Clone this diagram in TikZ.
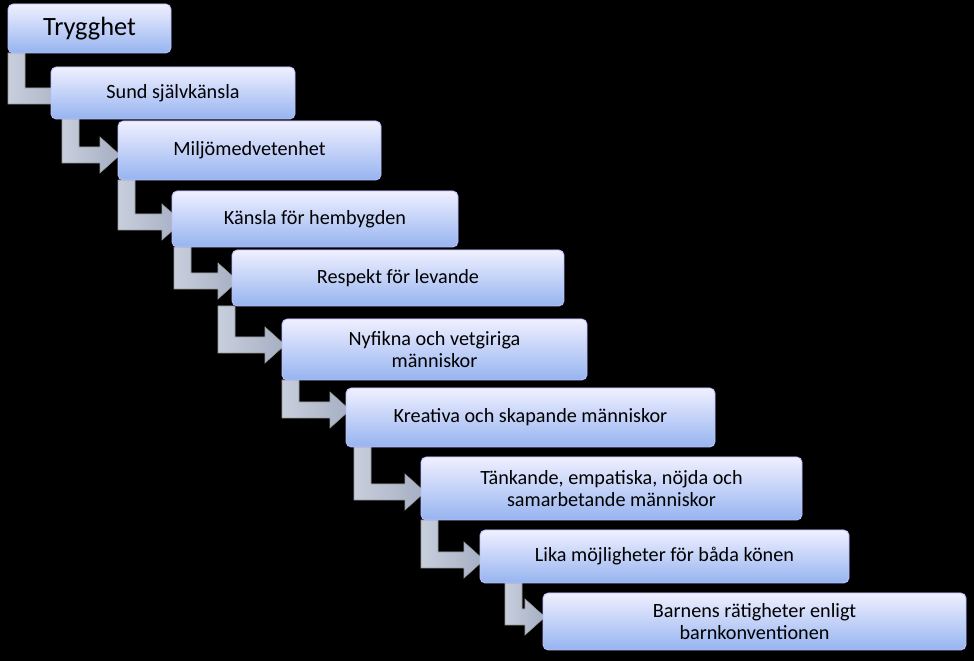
\documentclass[tikz,border=0pt]{standalone}
\usepackage{fontspec}
\setmainfont{Carlito}
\begin{document}
\begin{tikzpicture}[x=0.02cm,y=-0.02cm,
  boxst/.style={draw=blue!25!white,line width=0.5pt,rounded corners=3pt,top color=blue!6!white,bottom color={rgb,255:red,150;green,180;blue,240},align=center,font=\fontsize{11.5}{13}\selectfont,inner sep=0pt},
  arr/.style={draw=black!40,line width=0.3pt,left color={rgb,255:red,200;green,206;blue,220},right color={rgb,255:red,165;green,175;blue,195}}]
\fill[black] (0,0) rectangle (974,661);
\useasboundingbox (0,0) rectangle (974,661);
% arrows: L, T, yh, X
\foreach \L/\T/\Y/\X in {8/53/96/73, 62/119/155/120, 118/180/222/182, 174/247/281/238, 218/306/345/285, 282/380/410/350, 354/447/492/425, 421/520/560/484, 505/583/617/545}{
  \path[arr] (\L,\T) -- (\L+17,\T) -- (\L+17,\Y-8) -- (\X-20,\Y-8) -- (\X-20,\Y-18) -- (\X,\Y) -- (\X-20,\Y+18) -- (\X-20,\Y+8) -- (\L,\Y+8) -- cycle;
}
\foreach \n/\a/\b/\c/\d/\t in {
 b2/51/67/295/119/{Sund självkänsla},
 b3/118/121/381/180/{Miljömedvetenhet},
 b4/172/191/458/247/{Känsla för hembygden},
 b5/232/250/564/306/{Respekt för levande},
 b6/282/319/587/380/{Nyfikna och vetgiriga\\människor},
 b7/346/388/715/447/{Kreativa och skapande människor},
 b8/421/457/802/520/{Tänkande, empatiska, nöjda och\\samarbetande människor},
 b9/480/530/849/583/{Lika möjligheter för båda könen},
 b10/543/593/966/650/{Barnens rätigheter enligt\\barnkonventionen}}{
  \node[boxst,minimum width={(\c-\a)*0.02cm},minimum height={(\d-\b)*0.02cm}] (\n) at ({(\a+\c)/2},{(\b+\d)/2}) {\t};
}
\node[boxst,font=\fontsize{15}{17}\selectfont,minimum width={163*0.02cm},minimum height={49*0.02cm}] (b1) at (89.5,28.5) {Trygghet};
\end{tikzpicture}
\end{document}
